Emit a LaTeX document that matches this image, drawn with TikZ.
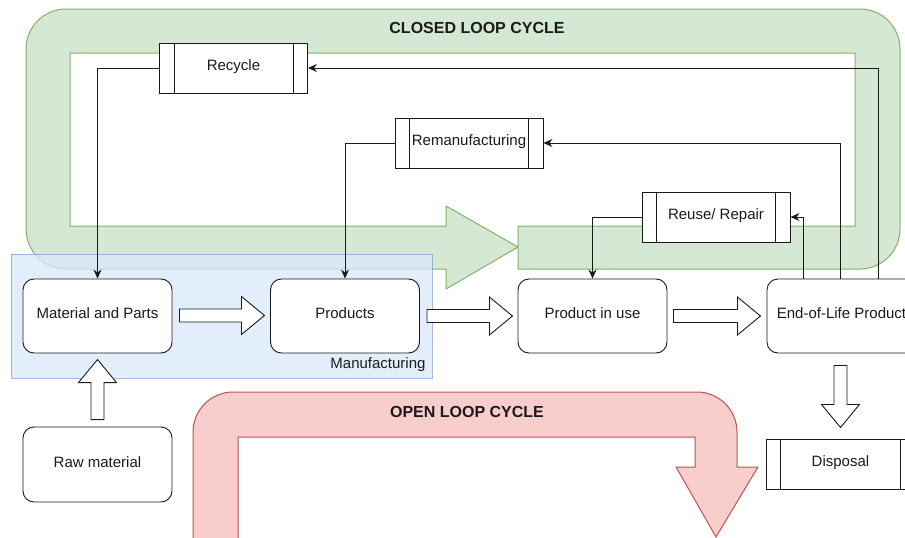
\documentclass[tikz,border=0pt]{standalone}
\usepackage{fontspec}
\setmainfont{Liberation Sans}
\usetikzlibrary{calc,arrows.meta}

\definecolor{loopgreen}{HTML}{D5E8D4}
\definecolor{loopgreenline}{HTML}{82B366}
\definecolor{loopred}{HTML}{F8CECC}
\definecolor{loopredline}{HTML}{B85450}
\definecolor{mfgblue}{HTML}{DAE8FC}
\definecolor{mfgblueline}{HTML}{6C8EBF}
\definecolor{ink}{HTML}{1A1A1A}

\tikzset{
  blockarr/.pic={
    \draw[hollowarr] (0,-6.5) -- (#1-23,-6.5) -- (#1-23,-19) -- (#1,0)
      -- (#1-23,19) -- (#1-23,6.5) -- (0,6.5) -- cycle;
  }
}

\begin{document}
\begin{tikzpicture}[x=1pt,y=-1pt,
  every node/.style={font=\fontsize{15}{18}\selectfont, text=ink},
  stage/.style={draw=ink, fill=white, rounded corners=11pt,
    minimum width=149pt, minimum height=74pt, line width=0.9pt, inner sep=0pt,
    text height=10.8pt, text depth=5pt},
  process/.style={draw=ink, fill=white, minimum width=148pt, minimum height=50pt,
    line width=0.9pt, inner sep=0pt, text height=10.8pt, text depth=5pt,
    path picture={\draw[ink, line width=0.9pt]
      ([xshift=14.5pt]path picture bounding box.north west) --
      ([xshift=14.5pt]path picture bounding box.south west)
      ([xshift=-14.5pt]path picture bounding box.north east) --
      ([xshift=-14.5pt]path picture bounding box.south east);}},
  conn/.style={draw=ink, line width=0.9pt, -{Stealth[length=9pt,width=8pt]}},
  hollowarr/.style={draw=ink, fill=white, line width=0.9pt, line join=miter},
  looplabel/.style={font=\bfseries\fontsize{16}{19}\selectfont}
]
\useasboundingbox (0,0) rectangle (905,538);
\clip (0,0) rectangle (905,538);

% closed loop band (U-turn arrow)
\path[fill=loopgreen, draw=loopgreenline, line width=1pt]
  (518,226) -- (518,269) -- (860,269)
  .. controls (882,269) and (900,251) .. (900,229) -- (900,49)
  .. controls (900,27) and (882,9) .. (860,9) -- (66,9)
  .. controls (44,9) and (26,27) .. (26,49) -- (26,229)
  .. controls (26,251) and (44,269) .. (66,269) -- (446,269) -- (446,289)
  -- (518,247) -- (446,206) -- (446,226) -- (70,226) -- (70,53)
  -- (855,53) -- (855,226) -- cycle;
\node[looplabel] (closedlbl) at (477,28) {CLOSED LOOP CYCLE};

% open loop band
\path[fill=loopred, draw=loopredline, line width=1pt]
  (193,545) -- (193,432) .. controls (193,410) and (211,392) .. (233,392)
  -- (697,392) .. controls (719,392) and (737,410) .. (737,432)
  -- (737,467) -- (758,467) -- (716,537) -- (676,467) -- (695,467)
  -- (695,437) -- (238,437) -- (238,545) -- cycle;
\node[looplabel] (openlbl) at (467,412) {OPEN LOOP CYCLE};

% manufacturing area
\path[fill=mfgblue, fill opacity=0.75, draw=mfgblueline, draw opacity=0.6, line width=1pt]
  (11,254) rectangle (432,378);
\node[anchor=east] (mfglbl) at (429,365) {Manufacturing};

% stages
\node[stage] (mat)  at (97.5,316)  {Material and Parts};
\node[stage] (prod) at (345,316)   {Products};
\node[stage] (use)  at (592.5,316) {Product in use};
\node[stage] (eol)  at (841.5,316) {End-of-Life Product};
\node[stage, minimum height=75pt] (raw) at (97.5,464.5) {Raw material};

% recovery processes
\node[process] (recycle)  at (233.5,68) {Recycle};
\node[process] (reman)    at (469,143)  {Remanufacturing};
\node[process] (reuse)    at (716,217)  {Reuse/ Repair};
\node[process, minimum width=149pt] (disposal) at (840.5,464) {Disposal};

% return flows
\draw[conn] (recycle.west) -| (mat.north);
\draw[conn] (reman.west) -| (prod.north);
\draw[conn] (reuse.west) -| (use.north);
\draw[conn] ([xshift=-38.5pt]eol.north) |- (reuse.east);
\draw[conn] ([xshift=-1pt]eol.north) |- (reman.east);
\draw[conn] ([xshift=36.5pt]eol.north) |- (recycle.east);

% forward flows
\pic at ($(mat.east)+(7,-0.5)$) {blockarr=85};
\pic at ($(prod.east)+(7,0)$) {blockarr=85.5};
\pic at ($(use.east)+(6,0)$) {blockarr=87};
\pic[rotate=90] at ($(raw.north)+(0,-7)$) {blockarr=60};
\pic[rotate=-90] at ($(eol.south)+(-1,12)$) {blockarr=62};
\end{tikzpicture}
\end{document}
